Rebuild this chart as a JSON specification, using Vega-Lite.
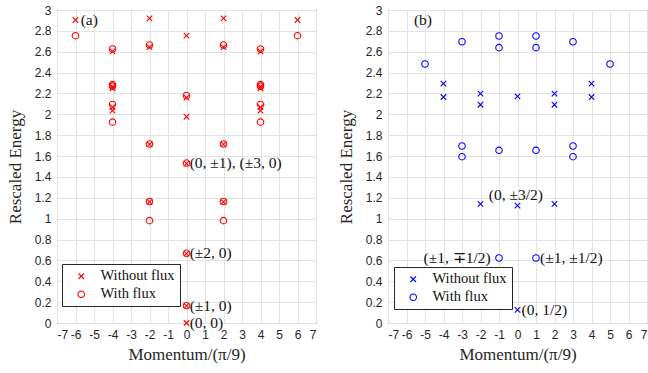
{
  "$schema": "https://vega.github.io/schema/vega-lite/v6.json",
  "padding": {"left": 5, "top": 3, "right": 0, "bottom": 5},
  "spacing": 19,
  "config": {
    "view": {"stroke": "#262626", "strokeWidth": 1},
    "axis": {
      "labelFont": "Liberation Sans", "labelFontSize": 12, "labelColor": "#262626", "labelOverlap": false,
      "titleFont": "Liberation Serif", "titleFontSize": 17, "titleFontWeight": "normal", "titleColor": "#262626",
      "gridColor": "#e3e3e3", "gridOpacity": 1, "domain": false,
      "tickSize": 0, "labelPadding": 6, "tickCount": 40
    },
    "legend": {
      "labelFont": "Liberation Serif", "labelFontSize": 14.5, "labelColor": "#111111",
      "strokeColor": "#262626", "fillColor": "white", "padding": 5, "cornerRadius": 0,
      "symbolStrokeWidth": 1.1, "symbolSize": 42, "labelOffset": 12, "symbolOffset": 7, "rowPadding": 3
    },
    "text": {"font": "Liberation Serif", "fontSize": 15.5, "color": "#111111"}
  },
  "datasets": {
    "pa": [
      {"m": -6, "E": 2.904, "type": "Without flux"}, {"m": -6, "E": 2.754, "type": "With flux"},
      {"m": 6, "E": 2.904, "type": "Without flux"}, {"m": 6, "E": 2.754, "type": "With flux"},
      {"m": -4, "E": 2.626, "type": "With flux"}, {"m": -4, "E": 2.603, "type": "Without flux"},
      {"m": -4, "E": 2.285, "type": "With flux"}, {"m": -4, "E": 2.27, "type": "With flux"},
      {"m": -4, "E": 2.265, "type": "Without flux"}, {"m": -4, "E": 2.25, "type": "Without flux"},
      {"m": -4, "E": 2.095, "type": "With flux"}, {"m": -4, "E": 2.07, "type": "Without flux"},
      {"m": -4, "E": 2.035, "type": "Without flux"}, {"m": -4, "E": 1.925, "type": "With flux"},
      {"m": 4, "E": 2.626, "type": "With flux"}, {"m": 4, "E": 2.603, "type": "Without flux"},
      {"m": 4, "E": 2.285, "type": "With flux"}, {"m": 4, "E": 2.27, "type": "With flux"},
      {"m": 4, "E": 2.265, "type": "Without flux"}, {"m": 4, "E": 2.25, "type": "Without flux"},
      {"m": 4, "E": 2.095, "type": "With flux"}, {"m": 4, "E": 2.07, "type": "Without flux"},
      {"m": 4, "E": 2.035, "type": "Without flux"}, {"m": 4, "E": 1.925, "type": "With flux"},
      {"m": -2, "E": 2.92, "type": "Without flux"}, {"m": -2, "E": 2.665, "type": "With flux"},
      {"m": -2, "E": 2.645, "type": "Without flux"}, {"m": -2, "E": 1.716, "type": "With flux"},
      {"m": -2, "E": 1.712, "type": "Without flux"}, {"m": -2, "E": 1.165, "type": "With flux"},
      {"m": -2, "E": 1.16, "type": "Without flux"}, {"m": -2, "E": 0.981, "type": "With flux"},
      {"m": 2, "E": 2.92, "type": "Without flux"}, {"m": 2, "E": 2.665, "type": "With flux"},
      {"m": 2, "E": 2.645, "type": "Without flux"}, {"m": 2, "E": 1.716, "type": "With flux"},
      {"m": 2, "E": 1.712, "type": "Without flux"}, {"m": 2, "E": 1.165, "type": "With flux"},
      {"m": 2, "E": 1.16, "type": "Without flux"}, {"m": 2, "E": 0.981, "type": "With flux"},
      {"m": 0, "E": 2.755, "type": "Without flux"}, {"m": 0, "E": 2.18, "type": "With flux"},
      {"m": 0, "E": 2.16, "type": "Without flux"}, {"m": 0, "E": 1.977, "type": "Without flux"},
      {"m": 0, "E": 1.533, "type": "With flux"}, {"m": 0, "E": 1.528, "type": "Without flux"},
      {"m": 0, "E": 0.668, "type": "With flux"}, {"m": 0, "E": 0.665, "type": "Without flux"},
      {"m": 0, "E": 0.166, "type": "With flux"}, {"m": 0, "E": 0.164, "type": "Without flux"},
      {"m": 0, "E": 0.0, "type": "Without flux"}
    ],
    "pb": [
      {"m": -5, "E": 2.482, "type": "With flux"}, {"m": 5, "E": 2.482, "type": "With flux"},
      {"m": -4, "E": 2.294, "type": "Without flux"}, {"m": -4, "E": 2.166, "type": "Without flux"},
      {"m": 4, "E": 2.294, "type": "Without flux"}, {"m": 4, "E": 2.166, "type": "Without flux"},
      {"m": -3, "E": 2.696, "type": "With flux"}, {"m": -3, "E": 1.697, "type": "With flux"}, {"m": -3, "E": 1.594, "type": "With flux"},
      {"m": 3, "E": 2.696, "type": "With flux"}, {"m": 3, "E": 1.697, "type": "With flux"}, {"m": 3, "E": 1.594, "type": "With flux"},
      {"m": -2, "E": 2.198, "type": "Without flux"}, {"m": -2, "E": 2.092, "type": "Without flux"}, {"m": -2, "E": 1.141, "type": "Without flux"},
      {"m": 2, "E": 2.198, "type": "Without flux"}, {"m": 2, "E": 2.092, "type": "Without flux"}, {"m": 2, "E": 1.141, "type": "Without flux"},
      {"m": -1, "E": 2.751, "type": "With flux"}, {"m": -1, "E": 2.639, "type": "With flux"}, {"m": -1, "E": 1.655, "type": "With flux"}, {"m": -1, "E": 0.623, "type": "With flux"},
      {"m": 1, "E": 2.751, "type": "With flux"}, {"m": 1, "E": 2.639, "type": "With flux"}, {"m": 1, "E": 1.655, "type": "With flux"}, {"m": 1, "E": 0.623, "type": "With flux"},
      {"m": 0, "E": 2.173, "type": "Without flux"}, {"m": 0, "E": 1.125, "type": "Without flux"}, {"m": 0, "E": 0.125, "type": "Without flux"}
    ],
    "la": [
      {"m": -5.72, "E": 2.9, "t": "(a)"},
      {"m": 0.17, "E": 1.53, "t": "(0, ±1), (±3, 0)"},
      {"m": 0.17, "E": 0.668, "t": "(±2, 0)"},
      {"m": 0.17, "E": 0.166, "t": "(±1, 0)"},
      {"m": 0.17, "E": 0.0, "t": "(0, 0)"}
    ],
    "lb": [
      {"m": -5.6, "E": 2.9, "t": "(b)"},
      {"m": -1.55, "E": 1.23, "t": "(0, ±3/2)"},
      {"m": 1.22, "E": 0.623, "t": "(±1, ±1/2)"},
      {"m": 0.22, "E": 0.125, "t": "(0, 1/2)"}
    ],
    "lbr": [
      {"m": -1.45, "E": 0.623, "t": "(±1, ∓1/2)"}
    ]
  },
  "hconcat": [
    {
      "width": 259, "height": 313,
      "layer": [
        {
          "data": {"name": "pa"},
          "mark": {"type": "point", "filled": false, "strokeWidth": 1.1, "color": "#ff0000", "opacity": 1, "size": 42, "clip": false},
          "encoding": {
            "x": {"field": "m", "type": "quantitative", "scale": {"domain": [-7, 7], "nice": false},
                  "axis": {"values": [-7,-6,-5,-4,-3,-2,-1,0,1,2,3,4,5,6,7], "tickCount": 40, "labelOverlap": false, "labelExpr": "'' + datum.value", "title": "Momentum/(π/9)", "titlePadding": 6}},
            "y": {"field": "E", "type": "quantitative", "scale": {"domain": [0, 3], "nice": false},
                  "axis": {"values": [0,0.2,0.4,0.6,0.8,1,1.2,1.4,1.6,1.8,2,2.2,2.4,2.6,2.8,3], "tickCount": 40, "labelOverlap": false, "labelExpr": "'' + datum.value", "title": "Rescaled Energy", "titlePadding": 10}},
            "shape": {"field": "type", "type": "nominal",
                      "scale": {"domain": ["Without flux", "With flux"], "range": ["M-0.85,-0.85L0.85,0.85M0.85,-0.85L-0.85,0.85", "circle"]},
                      "legend": {"title": null, "orient": "none", "legendX": 5, "legendY": 254, "symbolStrokeColor": "#ff0000", "symbolFillColor": "transparent"}}
          }
        },
        {
          "data": {"name": "la"},
          "mark": {"type": "text", "baseline": "middle", "align": "left"},
          "encoding": {
            "x": {"field": "m", "type": "quantitative"},
            "y": {"field": "E", "type": "quantitative"},
            "text": {"field": "t"}
          }
        }
      ]
    },
    {
      "width": 259, "height": 313,
      "layer": [
        {
          "data": {"name": "pb"},
          "mark": {"type": "point", "filled": false, "strokeWidth": 1.1, "color": "#0000ff", "opacity": 1, "size": 42, "clip": false},
          "encoding": {
            "x": {"field": "m", "type": "quantitative", "scale": {"domain": [-7, 7], "nice": false},
                  "axis": {"values": [-7,-6,-5,-4,-3,-2,-1,0,1,2,3,4,5,6,7], "tickCount": 40, "labelOverlap": false, "labelExpr": "'' + datum.value", "title": "Momentum/(π/9)", "titlePadding": 6}},
            "y": {"field": "E", "type": "quantitative", "scale": {"domain": [0, 3], "nice": false},
                  "axis": {"values": [0,0.2,0.4,0.6,0.8,1,1.2,1.4,1.6,1.8,2,2.2,2.4,2.6,2.8,3], "tickCount": 40, "labelOverlap": false, "labelExpr": "'' + datum.value", "title": "Rescaled Energy", "titlePadding": 10}},
            "shape": {"field": "type", "type": "nominal",
                      "scale": {"domain": ["Without flux", "With flux"], "range": ["M-0.85,-0.85L0.85,0.85M0.85,-0.85L-0.85,0.85", "circle"]},
                      "legend": {"title": null, "orient": "none", "legendX": 6, "legendY": 257, "symbolStrokeColor": "#0000ff", "symbolFillColor": "transparent"}}
          }
        },
        {
          "data": {"name": "lb"},
          "mark": {"type": "text", "baseline": "middle", "align": "left"},
          "encoding": {
            "x": {"field": "m", "type": "quantitative"},
            "y": {"field": "E", "type": "quantitative"},
            "text": {"field": "t"}
          }
        },
        {
          "data": {"name": "lbr"},
          "mark": {"type": "text", "baseline": "middle", "align": "right"},
          "encoding": {
            "x": {"field": "m", "type": "quantitative"},
            "y": {"field": "E", "type": "quantitative"},
            "text": {"field": "t"}
          }
        }
      ]
    }
  ],
  "resolve": {"scale": {"shape": "independent"}, "legend": {"shape": "independent"}}
}
